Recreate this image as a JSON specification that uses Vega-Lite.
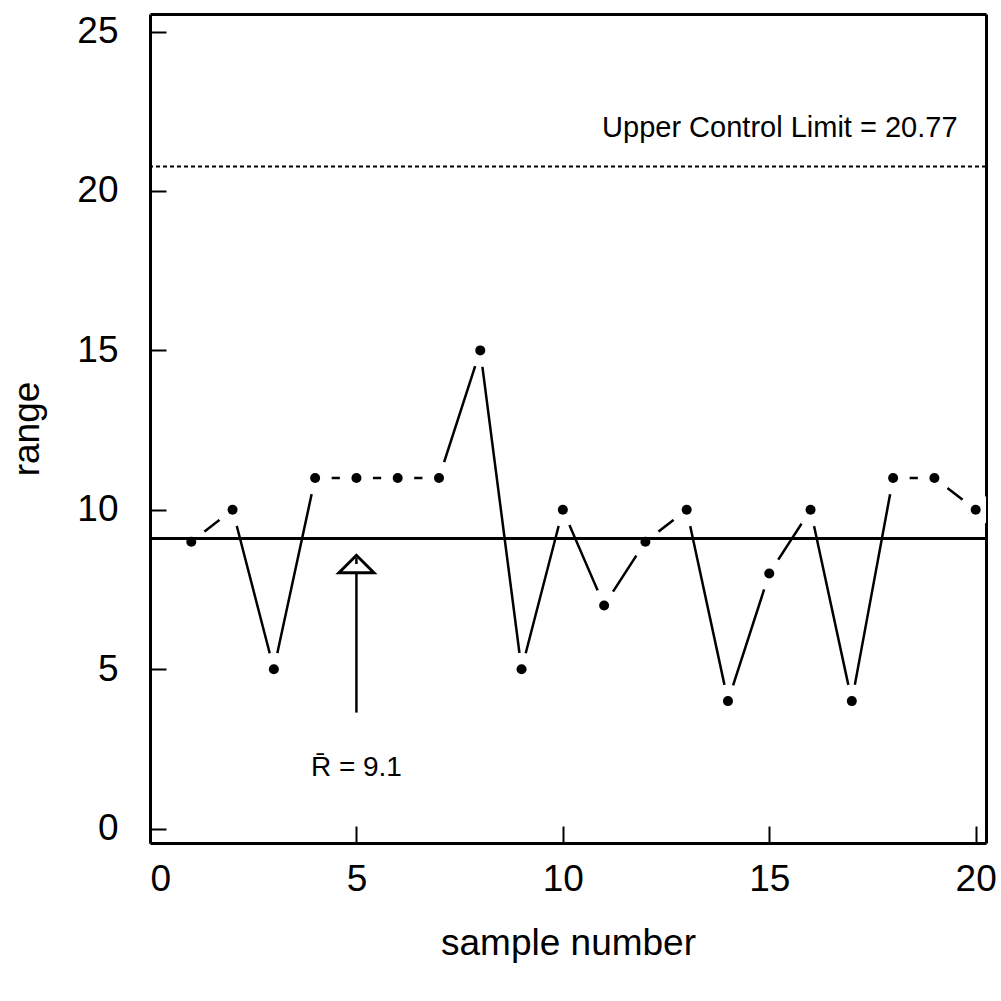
{
  "$schema": "https://vega.github.io/schema/vega-lite/v6.json",
  "autosize": "none",
  "width": 836,
  "height": 829,
  "padding": {"left": 150, "top": 14, "right": 15, "bottom": 158},
  "background": "white",
  "config": {
    "view": {"stroke": null},
    "font": "Liberation Sans",
    "axis": {"zindex": 1, "grid": false, "domainColor": "black", "tickColor": "black", "labelColor": "black", "titleColor": "black", "labelFont": "Liberation Sans", "titleFont": "Liberation Sans", "titleFontWeight": "normal"}
  },
  "datasets": {
    "ranges": [
      {"sample": 1, "range": 9}, {"sample": 2, "range": 10}, {"sample": 3, "range": 5},
      {"sample": 4, "range": 11}, {"sample": 5, "range": 11}, {"sample": 6, "range": 11},
      {"sample": 7, "range": 11}, {"sample": 8, "range": 15}, {"sample": 9, "range": 5},
      {"sample": 10, "range": 10}, {"sample": 11, "range": 7}, {"sample": 12, "range": 9},
      {"sample": 13, "range": 10}, {"sample": 14, "range": 4}, {"sample": 15, "range": 8},
      {"sample": 16, "range": 10}, {"sample": 17, "range": 4}, {"sample": 18, "range": 11},
      {"sample": 19, "range": 11}, {"sample": 20, "range": 10}
    ],
    "limits": [{"name": "center", "value": 9.1}, {"name": "ucl", "value": 20.77}],
    "uclNote": [{"label": "Upper Control Limit = 20.77", "sample": 19.56, "range": 21.97}],
    "meanNote": [{"label": "R̄ = 9.1", "sample": 5, "range": 1.9}],
    "pointer": [{"sample": 5, "from": 3.64, "to": 8.3}]
  },
  "resolve": {"axis": {"x": "independent", "y": "independent"}},
  "layer": [
    {
      "data": {"name": "ranges"},
      "mark": {"type": "line", "color": "black", "strokeWidth": 2.5},
      "encoding": {
        "x": {"field": "sample", "type": "quantitative",
              "scale": {"domain": [0, 20.25], "nice": false, "zero": false},
              "axis": {"orient": "bottom", "values": [0, 5, 10, 15, 20], "domainWidth": 3, "ticks": false,
                       "labelFontSize": 37, "labelPadding": 18, "title": "sample number", "titleFontSize": 37, "titlePadding": 28}},
        "y": {"field": "range", "type": "quantitative",
              "scale": {"domain": [-0.45, 25.55], "nice": false, "zero": false},
              "axis": {"orient": "left", "values": [0, 5, 10, 15, 20, 25], "domainWidth": 3, "ticks": false,
                       "labelFontSize": 37, "labelPadding": 32, "title": "range", "titleFontSize": 37, "titlePadding": 30}}
      }
    },
    {
      "data": {"name": "ranges"},
      "mark": {"type": "point", "filled": true, "color": "white", "opacity": 1, "size": 1100, "clip": true},
      "encoding": {
        "x": {"field": "sample", "type": "quantitative",
              "axis": {"orient": "top", "labels": false, "ticks": false, "domainWidth": 3, "title": null}},
        "y": {"field": "range", "type": "quantitative",
              "axis": {"orient": "right", "labels": false, "ticks": false, "domainWidth": 3, "title": null}}
      }
    },
    {
      "data": {"name": "limits"},
      "transform": [{"filter": "datum.name === 'center'"}],
      "mark": {"type": "rule", "color": "black", "strokeWidth": 3},
      "encoding": {"y": {"field": "value", "type": "quantitative", "axis": null}}
    },
    {
      "data": {"name": "limits"},
      "transform": [{"filter": "datum.name === 'ucl'"}],
      "mark": {"type": "rule", "color": "black", "strokeWidth": 2, "strokeDash": [4, 3]},
      "encoding": {"y": {"field": "value", "type": "quantitative", "axis": null}}
    },
    {
      "data": {"name": "ranges"},
      "mark": {"type": "point", "filled": true, "color": "black", "opacity": 1, "size": 100},
      "encoding": {
        "x": {"field": "sample", "type": "quantitative",
              "axis": {"orient": "bottom", "offset": -17, "values": [0, 5, 10, 15, 20], "domain": false, "labels": false,
                       "tickSize": 17, "tickWidth": 2, "title": null}},
        "y": {"field": "range", "type": "quantitative",
              "axis": {"orient": "left", "offset": -16, "values": [0, 5, 10, 15, 20, 25], "domain": false, "labels": false,
                       "tickSize": 16, "tickWidth": 2, "title": null}}
      }
    },
    {
      "data": {"name": "pointer"},
      "mark": {"type": "rule", "color": "black", "strokeWidth": 2.5},
      "encoding": {
        "x": {"field": "sample", "type": "quantitative", "axis": null},
        "y": {"field": "from", "type": "quantitative", "axis": null},
        "y2": {"field": "to"}
      }
    },
    {
      "data": {"name": "pointer"},
      "mark": {"type": "point", "shape": "M-1,0.5L0,-0.5L1,0.5Z", "filled": false, "fill": "white", "fillOpacity": 1, "stroke": "black", "strokeWidth": 3, "opacity": 1, "size": 1225},
      "encoding": {
        "x": {"field": "sample", "type": "quantitative", "axis": null},
        "y": {"field": "to", "type": "quantitative", "axis": null}
      }
    },
    {
      "data": {"name": "pointer"},
      "mark": {"type": "rule", "color": "black", "strokeWidth": 2.5},
      "encoding": {
        "x": {"field": "sample", "type": "quantitative", "axis": null},
        "y": {"field": "to", "type": "quantitative", "axis": null},
        "y2": {"datum": 8.5}
      }
    },
    {
      "data": {"name": "uclNote"},
      "mark": {"type": "text", "font": "Liberation Sans", "fontSize": 29, "color": "black", "baseline": "middle", "align": "right"},
      "encoding": {
        "x": {"field": "sample", "type": "quantitative", "axis": null},
        "y": {"field": "range", "type": "quantitative", "axis": null},
        "text": {"field": "label"}
      }
    },
    {
      "data": {"name": "meanNote"},
      "mark": {"type": "text", "font": "Liberation Sans", "fontSize": 28, "color": "black", "baseline": "middle", "align": "center"},
      "encoding": {
        "x": {"field": "sample", "type": "quantitative", "axis": null},
        "y": {"field": "range", "type": "quantitative", "axis": null},
        "text": {"field": "label"}
      }
    }
  ]
}
